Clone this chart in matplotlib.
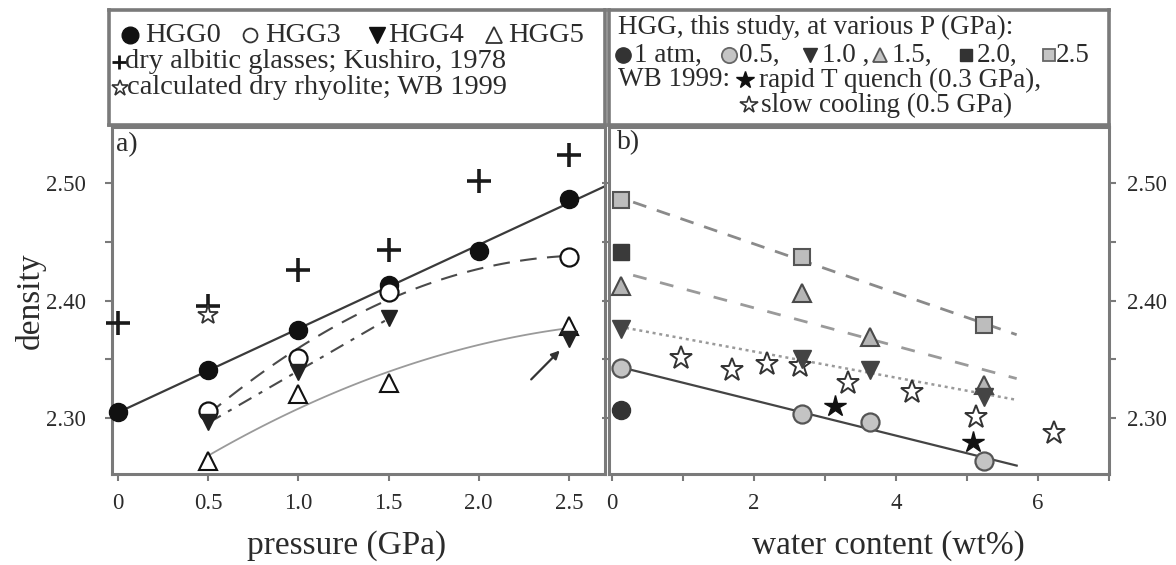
import numpy as np
import matplotlib
matplotlib.use("Agg")
import matplotlib.pyplot as plt
from matplotlib.ticker import FixedLocator, FormatStrFormatter

plt.rcParams["font.family"] = ["Liberation Serif", "DejaVu Serif"]

# ---- panel a) density vs pressure (GPa) ----
hgg0_p = [0.0, 0.5, 1.0, 1.5, 2.0, 2.5]
hgg0_rho = [2.305, 2.341, 2.375, 2.413, 2.442, 2.487]
hgg3_p = [0.5, 1.0, 1.5, 2.5]
hgg3_rho = [2.306, 2.351, 2.407, 2.437]
hgg4_p = [0.5, 1.0, 1.5, 2.5]
hgg4_rho = [2.296, 2.339, 2.385, 2.367]
hgg5_p = [0.5, 1.0, 1.5, 2.5]
hgg5_rho = [2.263, 2.320, 2.330, 2.378]
kushiro_p = [0.0, 0.5, 1.0, 1.5, 2.0, 2.5]
kushiro_rho = [2.381, 2.395, 2.426, 2.443, 2.502, 2.524]
wb_dry_p = [0.5]
wb_dry_rho = [2.388]

# ---- panel b) density vs water content (wt%) ----
w_2p5 = [0.13, 2.68, 5.24]
rho_2p5 = [2.486, 2.437, 2.379]
w_2p0 = [0.13]
rho_2p0 = [2.441]
w_1p5 = [0.13, 2.68, 3.63, 5.24]
rho_1p5 = [2.412, 2.406, 2.369, 2.328]
w_1p0 = [0.13, 2.68, 3.63, 5.24]
rho_1p0 = [2.376, 2.350, 2.341, 2.318]
w_0p5 = [0.13, 2.68, 3.63, 5.24]
rho_0p5 = [2.342, 2.303, 2.296, 2.263]
w_1atm = [0.13]
rho_1atm = [2.307]
quench_w = [3.14, 5.08]
quench_rho = [2.310, 2.279]
slow_w = [0.97, 1.69, 2.18, 2.65, 3.32, 4.23, 5.13, 6.22]
slow_rho = [2.351, 2.341, 2.346, 2.344, 2.330, 2.322, 2.301, 2.287]

W, H = 1176, 565
TXT = "#2b2b2b"
SPINE = "#7a7a7a"


def rect(x0, y0, x1, y1):
    return [x0 / W, 1 - y1 / H, (x1 - x0) / W, (y1 - y0) / H]


def fit_line(ax, x, y, deg, x0, x1, **kw):
    c = np.polyfit(x, y, deg)
    xs = np.linspace(x0, x1, 60)
    ax.plot(xs, np.polyval(c, xs), zorder=1, **kw)


def style_spines(ax):
    for s in ax.spines.values():
        s.set_color(SPINE)
        s.set_linewidth(2.2)


fig = plt.figure(figsize=(W / 100, H / 100), dpi=100)
axL = fig.add_axes(rect(112, 127, 605, 474))
axR = fig.add_axes(rect(609, 127, 1109, 474))

# panel a
fit_line(axL, hgg0_p, hgg0_rho, 1, 0.0, 2.7, color="#3a3a3a", lw=1.6)
fit_line(axL, hgg3_p, hgg3_rho, 2, 0.5, 2.5, color="#4a4a4a", lw=1.5, ls=(0, (8, 5)))
fit_line(axL, hgg4_p[:3], hgg4_rho[:3], 1, 0.5, 1.5, color="#4a4a4a", lw=1.5,
         ls=(0, (7, 4, 2, 4)))
fit_line(axL, hgg5_p, hgg5_rho, 2, 0.5, 2.5, color="#9a9a9a", lw=1.3)

mk = dict(ls="none", zorder=3, clip_on=False)
axL.plot(kushiro_p, kushiro_rho, marker="+", ms=17, mew=2.6, color="#1a1a1a", **mk)
axL.plot(wb_dry_p, wb_dry_rho, marker="*", ms=15, mfc="white", mec="#333", mew=1.3, **mk)
axL.plot(hgg0_p, hgg0_rho, marker="o", ms=13, mfc="#111", mec="#111", **mk)
axL.plot(hgg3_p, hgg3_rho, marker="o", ms=13, mfc="white", mec="#111", mew=1.6, **mk)
axL.plot(hgg5_p, hgg5_rho, marker="^", ms=13, mfc="white", mec="#111", mew=1.5, **mk)
axL.plot(hgg4_p, hgg4_rho, marker="v", ms=12, mfc="#222", mec="#222", **mk)
axL.annotate("", xy=(2.46, 2.359), xytext=(2.28, 2.331),
             arrowprops=dict(arrowstyle="-|>", color="#333", lw=1.6, mutation_scale=12))

axL.set_xlim(-0.033, 2.70)
axL.set_ylim(2.252, 2.548)
axL.xaxis.set_major_locator(FixedLocator([0, 0.5, 1.0, 1.5, 2.0, 2.5]))
axL.set_xticklabels(["0", "0.5", "1.0", "1.5", "2.0", "2.5"])
axL.yaxis.set_major_locator(FixedLocator([2.30, 2.40, 2.50]))
axL.yaxis.set_minor_locator(FixedLocator([2.35, 2.45]))
axL.yaxis.set_major_formatter(FormatStrFormatter("%.2f"))
axL.tick_params(axis="both", which="both", colors=SPINE, labelcolor=TXT,
                labelsize=16.5, length=5, width=1.5, direction="out")
axL.tick_params(axis="y", pad=14)
axL.tick_params(axis="x", pad=9)
axL.set_xlabel("pressure (GPa)", fontsize=24, color=TXT, va="center")
axL.xaxis.set_label_coords(0.475, -0.205)
axL.set_ylabel("density", fontsize=24, color=TXT, va="center")
axL.yaxis.set_label_coords(-0.166, 0.50)
axL.text(0.008, 0.985, "a)", transform=axL.transAxes, fontsize=20, color=TXT,
         ha="left", va="top")
style_spines(axL)

# panel b
fit_line(axR, w_2p5, rho_2p5, 1, 0.3, 5.7, color="#8a8a8a", lw=2.0, ls=(0, (5, 4)))
fit_line(axR, w_1p5, rho_1p5, 1, 0.3, 5.7, color="#9a9a9a", lw=2.0, ls=(0, (5, 5)))
fit_line(axR, w_1p0, rho_1p0, 1, 0.2, 5.7, color="#9a9a9a", lw=1.8, ls=(0, (1.2, 1.5)))
fit_line(axR, w_0p5, rho_0p5, 1, 0.13, 5.7, color="#444", lw=1.6)

axR.plot(slow_w, slow_rho, marker="*", ms=17, mfc="white", mec="#333", mew=1.4, **mk)
axR.plot(w_2p5, rho_2p5, marker="s", ms=11, mfc="#bdbdbd", mec="#555", mew=1.5, **mk)
axR.plot(w_2p0, rho_2p0, marker="s", ms=11, mfc="#3a3a3a", mec="#3a3a3a", **mk)
axR.plot(w_1p5, rho_1p5, marker="^", ms=13, mfc="#b5b5b5", mec="#4a4a4a", mew=1.5, **mk)
axR.plot(w_1p0, rho_1p0, marker="v", ms=13, mfc="#444", mec="#444", **mk)
axR.plot(w_0p5, rho_0p5, marker="o", ms=13, mfc="#c4c4c4", mec="#555", mew=1.6, **mk)
axR.plot(w_1atm, rho_1atm, marker="o", ms=13, mfc="#333", mec="#333", **mk)
axR.plot(quench_w, quench_rho, marker="*", ms=16, mfc="#111", mec="#111", **mk)

axR.set_xlim(-0.04, 7.0)
axR.set_ylim(2.252, 2.548)
axR.xaxis.set_major_locator(FixedLocator([0, 2, 4, 6]))
axR.xaxis.set_minor_locator(FixedLocator([1, 3, 5, 7]))
axR.yaxis.set_major_locator(FixedLocator([2.30, 2.40, 2.50]))
axR.yaxis.set_minor_locator(FixedLocator([2.35, 2.45]))
axR.yaxis.set_major_formatter(FormatStrFormatter("%.2f"))
axR.yaxis.tick_right()
axR.yaxis.set_ticks_position("both")
axR.tick_params(axis="both", which="both", colors=SPINE, labelcolor=TXT,
                labelsize=16.5, length=5, width=1.5, direction="out")
axR.tick_params(axis="y", which="both", labelleft=False, labelright=True, pad=8)
axR.tick_params(axis="x", pad=9)
axR.set_xlabel("water content (wt%)", fontsize=24, color=TXT, va="center")
axR.xaxis.set_label_coords(0.558, -0.205)
axR.text(0.016, 0.99, "b)", transform=axR.transAxes, fontsize=20, color=TXT,
         ha="left", va="top")
style_spines(axR)

# legend boxes (pixel-like coordinates inside each box)
legL = fig.add_axes(rect(109, 10, 605, 125))
legR = fig.add_axes(rect(609, 10, 1109, 125))
for lg, (x0, x1) in ((legL, (109, 605)), (legR, (609, 1109))):
    lg.set_xlim(x0, x1)
    lg.set_ylim(125, 10)
    lg.set_xticks([])
    lg.set_yticks([])
    style_spines(lg)
    for s in lg.spines.values():
        s.set_linewidth(2.6)

FSL = 20.5
FSR = 19.5
lk = dict(ls="none", clip_on=False)
legL.plot(130, 35, marker="o", ms=12, mfc="#111", mec="#111", **lk)
legL.text(145, 35, "HGG0", fontsize=FSL, color=TXT, va="center")
legL.plot(250, 35, marker="o", ms=10, mfc="white", mec="#333", mew=1.3, **lk)
legL.text(265, 35, "HGG3", fontsize=FSL, color=TXT, va="center")
legL.plot(377, 35, marker="v", ms=11, mfc="#111", mec="#111", **lk)
legL.text(388, 35, "HGG4", fontsize=FSL, color=TXT, va="center")
legL.plot(494, 35, marker="^", ms=11, mfc="white", mec="#333", mew=1.3, **lk)
legL.text(508, 35, "HGG5", fontsize=FSL, color=TXT, va="center")
legL.plot(119, 62, marker="+", ms=10, mew=2, color="#111", **lk)
legL.text(125, 62, "dry albitic glasses; Kushiro, 1978", fontsize=FSL, color=TXT,
          va="center")
legL.plot(120, 88, marker="*", ms=12, mfc="white", mec="#333", mew=1.2, **lk)
legL.text(127, 88, "calculated dry rhyolite; WB 1999", fontsize=FSL, color=TXT,
          va="center")

legR.text(618, 27, "HGG, this study, at various P (GPa):", fontsize=FSR, color=TXT,
          va="center")
legR.plot(623, 55, marker="o", ms=11, mfc="#333", mec="#333", **lk)
legR.text(634, 55, "1 atm,", fontsize=FSR, color=TXT, va="center")
legR.plot(729, 55, marker="o", ms=11, mfc="#c4c4c4", mec="#666", mew=1.3, **lk)
legR.text(739, 55, "0.5,", fontsize=FSR, color=TXT, va="center")
legR.plot(810, 55, marker="v", ms=10, mfc="#333", mec="#333", **lk)
legR.text(822, 55, "1.0 ,", fontsize=FSR, color=TXT, va="center")
legR.plot(880, 55, marker="^", ms=10, mfc="#c4c4c4", mec="#555", mew=1.3, **lk)
legR.text(892, 55, "1.5,", fontsize=FSR, color=TXT, va="center")
legR.plot(966, 55, marker="s", ms=9, mfc="#333", mec="#333", **lk)
legR.text(977, 55, "2.0,", fontsize=FSR, color=TXT, va="center")
legR.plot(1049, 55, marker="s", ms=9, mfc="#c4c4c4", mec="#666", mew=1.3, **lk)
legR.text(1056, 55, "2.5", fontsize=FSR, color=TXT, va="center")
legR.text(618, 80, "WB 1999:", fontsize=FSR, color=TXT, va="center")
legR.plot(745, 80, marker="*", ms=13, mfc="#111", mec="#111", **lk)
legR.text(759, 80, "rapid T quench (0.3 GPa),", fontsize=FSR, color=TXT, va="center")
legR.plot(749, 105, marker="*", ms=13, mfc="white", mec="#333", mew=1.2, **lk)
legR.text(761, 105, "slow cooling (0.5 GPa)", fontsize=FSR, color=TXT, va="center")

fig.savefig("out.png", dpi=100)
